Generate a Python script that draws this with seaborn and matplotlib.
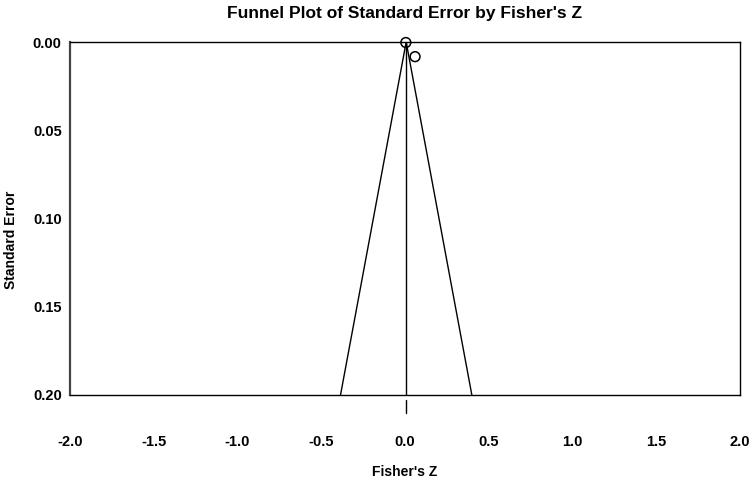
import numpy as np
import pandas as pd
import seaborn as sns
import matplotlib.pyplot as plt
from matplotlib.transforms import blended_transform_factory

# study points (Fisher's Z, standard error)
fisher_z = [0.005, 0.06]
std_err = [0.0003, 0.0083]

combined_z = 0.007   # overall effect
se_max = 0.20

x_ticks = [-2.0, -1.5, -1.0, -0.5, 0.0, 0.5, 1.0, 1.5, 2.0]
y_ticks = [0.00, 0.05, 0.10, 0.15, 0.20]

sns.set_theme(style="white")
plt.rcParams['font.family'] = ['Liberation Sans', 'DejaVu Sans']

df = pd.DataFrame({'z': fisher_z, 'se': std_err})
funnel = pd.DataFrame({
    'z': [combined_z - 1.96 * se_max, combined_z, combined_z + 1.96 * se_max],
    'se': [se_max, 0.0, se_max],
})

fig = plt.figure(figsize=(7.5, 4.88), dpi=100)
ax = fig.add_axes([0.0933, 0.1906, 0.8934, 0.7233])

ax.plot(funnel['z'], funnel['se'], color='black', lw=1.0)
ax.plot([combined_z, combined_z], [0, se_max], color='black', lw=1.0)
sns.scatterplot(data=df, x='z', y='se', ax=ax, marker='o', s=50,
                facecolor='none', edgecolor='black', linewidth=1.1,
                clip_on=False, zorder=5)

# combined effect marker below the axis
tr = blended_transform_factory(ax.transData, ax.transAxes)
ax.plot([combined_z, combined_z], [-0.014, -0.05], color='black', lw=1.0,
        transform=tr, clip_on=False)

ax.set_xlim(-2.0, 2.0)
ax.set_ylim(se_max, 0.0)
ax.set_xticks(x_ticks)
ax.set_yticks(y_ticks)
ax.set_xticklabels([f"{v:.1f}" for v in x_ticks], fontweight='bold', fontsize=10.5)
ax.set_yticklabels([f"{v:.2f}" for v in y_ticks], fontweight='bold', fontsize=10.5)
ax.tick_params(axis='x', direction='inout', length=6, width=0.8, pad=26, colors='black')
ax.tick_params(axis='y', direction='out', length=3, width=0.8, pad=3, colors='black')
plt.setp(ax.get_yticklabels(), color='black')
plt.setp(ax.get_xticklabels(), color='black')

for side in ['top', 'bottom', 'right']:
    ax.spines[side].set_color('black')
    ax.spines[side].set_linewidth(1.0)
ax.spines['left'].set_color('#444444')
ax.spines['left'].set_linewidth(1.6)

ax.set_xlabel("Fisher's Z", fontweight='bold', fontsize=10, labelpad=11, color='black')
ax.set_ylabel("Standard Error", fontweight='bold', fontsize=10, color='black')
ax.yaxis.set_label_coords(-0.078, 0.44)
ax.set_title("Funnel Plot of Standard Error by Fisher's Z", fontweight='bold',
             fontsize=12.5, pad=17, color='black')

fig.savefig('out.png', dpi=100)
